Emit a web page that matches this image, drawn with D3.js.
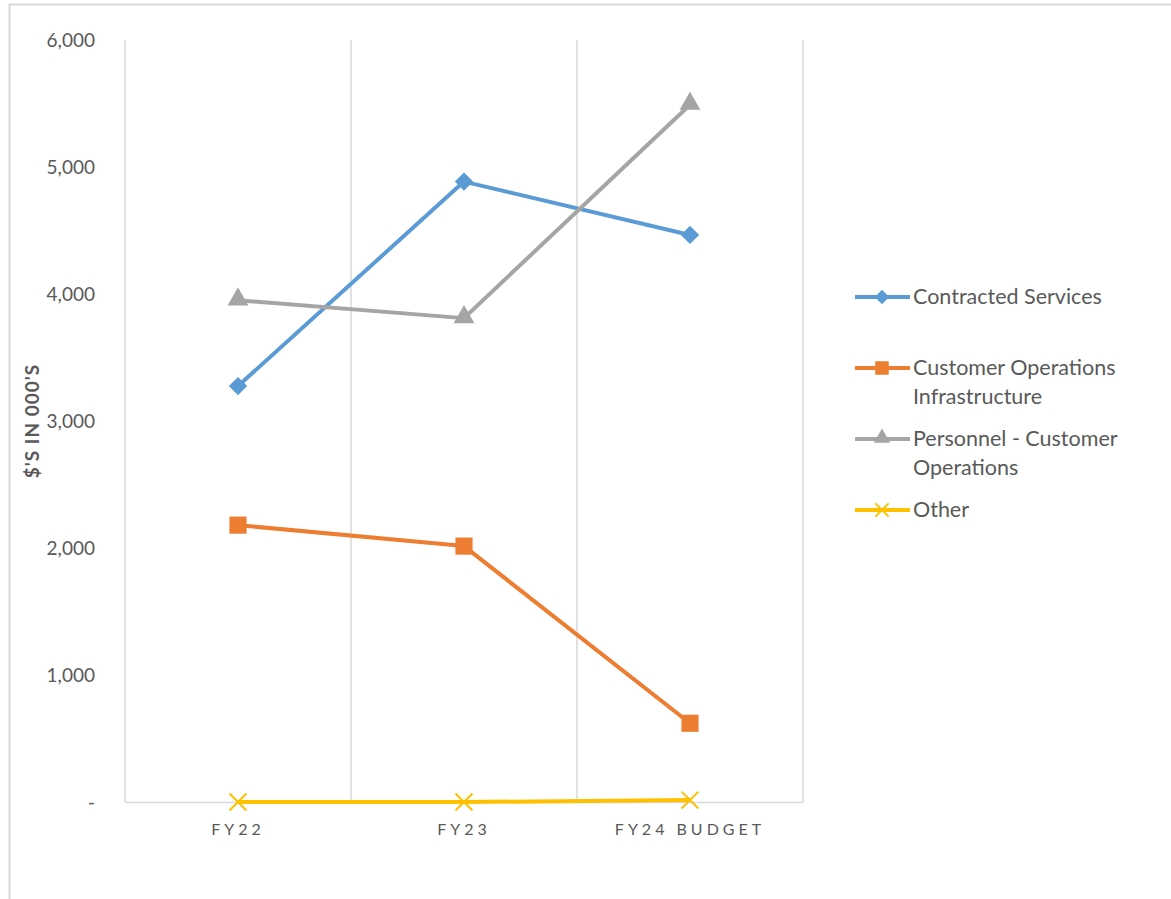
<!DOCTYPE html>
<html>
<head>
<meta charset="utf-8">
<script src="https://cdn.jsdelivr.net/npm/d3@7"></script>
<style>
  body { margin: 0; background: #fff; }
  text { font-family: Lato, "Open Sans", sans-serif; fill: #595959; }
</style>
</head>
<body>
<div class="chart"></div>
<script>
// chart data
var categories = ['FY22', 'FY23', 'FY24 BUDGET'];
var seriesNames = ['Contracted Services', 'Customer Operations Infrastructure', 'Personnel - Customer Operations', 'Other'];
var contracted = [3275, 4885, 4465];
var infrastructure = [2180, 2015, 620];
var personnel = [3950, 3810, 5490];
var other = [0, 0, 15];
var yTicks = [0, 1000, 2000, 3000, 4000, 5000, 6000];

var colors = ['#5B9BD5', '#ED7D31', '#A5A5A5', '#FFC000'];
var symbols = ['diamond', 'square', 'triangle', 'x'];
var legendLines = [['Contracted Services'], ['Customer Operations', 'Infrastructure'], ['Personnel - Customer', 'Operations'], ['Other']];

var data = [contracted, infrastructure, personnel, other].map(function (v, i) {
	return { name: seriesNames[i], values: v, color: colors[i], symbol: symbols[i] };
});

var fullWidth = 1171, fullHeight = 899;
var margin = {top: 40, left: 125};
var width = 678, height = 762;

var svg = d3.select('.chart')
	.append('svg')
	.attr('width', fullWidth)
	.attr('height', fullHeight);

// outer frame (only top and left edges show)
svg.append('path')
	.attr('d', 'M9.5,' + fullHeight + 'V4.5H' + fullWidth)
	.style('fill', 'none')
	.style('stroke', '#D9D9D9')
	.style('stroke-width', 2);

var g = svg.append('g')
	.attr('transform', 'translate(' + margin.left + ',' + margin.top + ')');

var xScale = d3.scaleBand()
	.domain(categories)
	.range([0, width]);

var yScale = d3.scaleLinear()
	.domain([0, 6000])
	.range([height, 0]);

// vertical gridlines between categories
var bounds = [0].concat(categories.map(function (c) { return xScale(c) + xScale.bandwidth(); }));
g.selectAll('.vgrid')
	.data(bounds)
	.enter()
	.append('line')
	.attr('x1', function (d) { return d; })
	.attr('x2', function (d) { return d; })
	.attr('y1', 0)
	.attr('y2', height)
	.style('stroke', '#D9D9D9')
	.style('stroke-width', 1.5);

// x axis
var xAxis = d3.axisBottom(xScale).tickSize(0).tickPadding(22);
var xg = g.append('g')
	.attr('transform', 'translate(0,' + height + ')')
	.call(xAxis);
xg.select('.domain').style('stroke', '#D9D9D9').style('stroke-width', 1.5);
xg.selectAll('text')
	.style('font-size', '16px')
	.style('letter-spacing', '4px')
	.style('fill', '#595959');

// y axis
var yAxis = d3.axisLeft(yScale)
	.tickValues(yTicks)
	.tickSize(0)
	.tickPadding(30)
	.tickFormat(function (d) { return d === 0 ? '-' : d3.format(',')(d); });
var yg = g.append('g').call(yAxis);
yg.select('.domain').remove();
yg.selectAll('text')
	.style('font-size', '19px')
	.style('fill', '#595959');

// y axis title
svg.append('text')
	.attr('transform', 'translate(39,' + (margin.top + height / 2) + ') rotate(-90)')
	.attr('text-anchor', 'middle')
	.style('font-size', '19px')
	.style('letter-spacing', '1px')
	.style('font-weight', 'bold')
	.text("$'S IN 000'S");

var line = d3.line()
	.x(function (d, i) { return xScale(categories[i]) + xScale.bandwidth() / 2; })
	.y(function (d) { return yScale(d); });

function symbolPath(type, size) {
	if (type === 'diamond') return d3.symbol().type(d3.symbolSquare).size(size * 0.8)();
	if (type === 'square') return d3.symbol().type(d3.symbolSquare).size(size * 1.4)();
	if (type === 'triangle') return d3.symbol().type(d3.symbolTriangle).size(size * 0.9)();
	return d3.symbol().type(d3.symbolTimes).size(size * 0.9)();
}

var series = g.selectAll('.series')
	.data(data)
	.enter()
	.append('g');

series.append('path')
	.attr('d', function (d) { return line(d.values); })
	.style('stroke', function (d) { return d.color; })
	.style('stroke-width', 4)
	.style('stroke-linejoin', 'round')
	.style('fill', 'none');

series.each(function (s) {
	d3.select(this).selectAll('.mark')
		.data(s.values)
		.enter()
		.append('path')
		.attr('transform', function (d, i) {
			var rot = s.symbol === 'diamond' ? ' rotate(45)' : '';
			var dy = s.symbol === 'triangle' ? -1 : 0;
			return 'translate(' + (xScale(categories[i]) + xScale.bandwidth() / 2) + ',' + (yScale(d) + dy) + ')' + rot;
		})
		.attr('d', symbolPath(s.symbol, 210))
		.style('fill', s.symbol === 'x' ? 'none' : s.color)
		.style('stroke', s.color)
		.style('stroke-width', s.symbol === 'x' ? 2 : 0);
});

// legend
var legendY = [297, 368, 439, 510];
var legend = svg.selectAll('.legend')
	.data(data)
	.enter()
	.append('g')
	.attr('transform', function (d, i) { return 'translate(855,' + legendY[i] + ')'; });

legend.append('line')
	.attr('x1', 0).attr('x2', 55)
	.style('stroke', function (d) { return d.color; })
	.style('stroke-width', 4);

legend.append('path')
	.attr('transform', function (d) {
		return 'translate(27,' + (d.symbol === 'triangle' ? -1 : 0) + ')' + (d.symbol === 'diamond' ? ' rotate(45)' : '');
	})
	.attr('d', function (d) { return symbolPath(d.symbol, 130); })
	.style('fill', function (d) { return d.symbol === 'x' ? 'none' : d.color; })
	.style('stroke', function (d) { return d.color; })
	.style('stroke-width', function (d) { return d.symbol === 'x' ? 2 : 0; });

legend.each(function (d, i) {
	var t = d3.select(this).append('text')
		.attr('x', 58)
		.attr('y', 7)
		.style('font-size', '21.5px');
	legendLines[i].forEach(function (l, j) {
		t.append('tspan').attr('x', 58).attr('dy', j === 0 ? 0 : 29).text(l);
	});
});
</script>
</body>
</html>
